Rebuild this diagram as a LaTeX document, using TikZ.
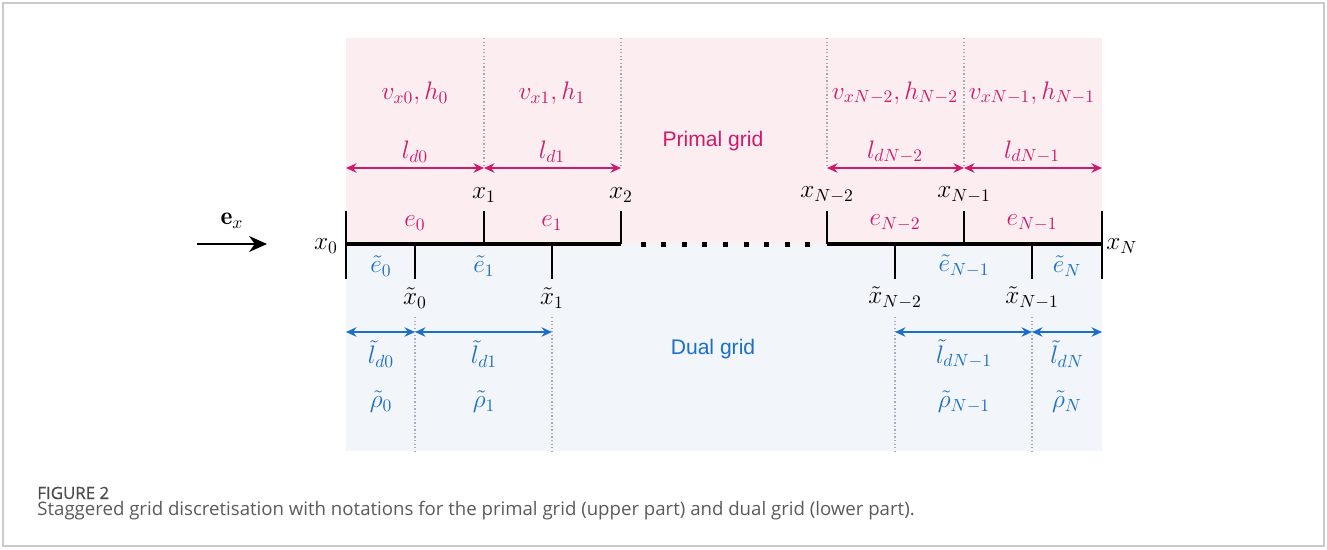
\documentclass[tikz,border=0pt]{standalone}
\usepackage{amsmath,amssymb}
\usepackage{fontspec}
\setsansfont{Liberation Sans}
\newfontfamily\capfont{Open Sans}
\newfontfamily\capheadfont{Open Sans}[FakeBold=0.6]
\usetikzlibrary{arrows.meta, positioning, calc}
\definecolor{pmag}{HTML}{CF1A6C}
\definecolor{dblue}{HTML}{1C6FC6}
\definecolor{pfill}{HTML}{FCEEF0}
\definecolor{dfill}{HTML}{F2F5FA}
\definecolor{pgray}{HTML}{A8A8A8}
\definecolor{dgray}{HTML}{A3ADBA}
\definecolor{frame}{HTML}{CACACA}
\definecolor{capgray}{HTML}{5A5A5A}

\begin{document}
\begin{tikzpicture}[
    x=0.02cm, y=-0.02cm,
    >={Stealth[length=2.1mm, width=1.9mm]},
    every node/.style={font=\fontsize{14.5}{17}\selectfont, inner sep=0.5pt},
    plab/.style={text=pmag},
    dlab/.style={text=dblue},
    pdim/.style={<->, pmag, line width=0.8pt},
    ddim/.style={<->, dblue, line width=0.8pt},
    pguide/.style={pgray, line width=0.8pt, dash pattern=on 0.8pt off 1.2pt},
    dguide/.style={dgray, line width=0.8pt, dash pattern=on 0.8pt off 1.2pt},
    gridtick/.style={line width=1.2pt},
    axisline/.style={line width=2.8pt},
    areatitle/.style={font=\sffamily\fontsize{12}{14}\selectfont},
  ]

  % Page frame
  \useasboundingbox (0,0) rectangle (1327,549);
  \draw[frame, line width=0.8pt] (3,3) rectangle (1324,546);

  % Primal and dual areas
  \fill[pfill] (346,38) rectangle (1102,244);
  \fill[dfill] (346,244) rectangle (1102,451);

  % Grid points
  \foreach \n/\x in {0/346,1/484,2/621,3/827,4/964,5/1102}
    \coordinate (p\n) at (\x,244);
  \foreach \n/\x in {0/415,1/552,2/895,3/1032}
    \coordinate (d\n) at (\x,244);
  \coordinate (ptop) at (0,38);
  \coordinate (parr) at (0,168);
  \coordinate (darr) at (0,332);
  \coordinate (dtop) at (0,317);
  \coordinate (dlow) at (0,451);
  \coordinate (tup) at (0,211);
  \coordinate (tdown) at (0,279);

  %%% ---------------- Primal grid (upper part) ---------------- %%%
  \foreach \n in {1,2,3,4}
    \draw[pguide] (p\n |- ptop) -- (p\n |- parr);
  \draw[pdim] (p0 |- parr) -- (p1 |- parr);
  \draw[pdim] (p1 |- parr) -- (p2 |- parr);
  \draw[pdim] (p3 |- parr) -- (p4 |- parr);
  \draw[pdim] (p4 |- parr) -- (p5 |- parr);

  \node[plab] (v0) at (415,93) {$v_{x0}, h_0$};
  \node[plab] (v1) at (552,93) {$v_{x1}, h_1$};
  \node[plab] (vN2) at (895,93) {$v_{xN-2}, h_{N-2}$};
  \node[plab] (vN1) at (1032,93) {$v_{xN-1}, h_{N-1}$};

  \node[plab] (ld0) at (415,152) {$l_{d0}$};
  \node[plab] (ld1) at (552,152) {$l_{d1}$};
  \node[plab] (ldN2) at (895,152) {$l_{dN-2}$};
  \node[plab] (ldN1) at (1032,152) {$l_{dN-1}$};

  \node[areatitle, text=pmag] (primal) at (713,141) {Primal grid};

  %%% ---------------- Axis ---------------- %%%
  \draw[axisline] (p0) -- (p2);
  \draw[axisline] (p3) -- (p5);
  \foreach \i in {0,...,8}
    \fill (640.5+20.6*\i,241.5) rectangle ++(5,5);

  \draw[gridtick] (p0 |- tup) -- (p0 |- tdown);
  \draw[gridtick] (p5 |- tup) -- (p5 |- tdown);
  \foreach \n in {1,2,3,4}
    \draw[gridtick] (p\n |- tup) -- (p\n);
  \foreach \n in {0,...,3}
    \draw[gridtick] (d\n) -- (d\n |- tdown);

  \node[anchor=east] (x0) at (339,246) {$x_0$};
  \node[anchor=west] (xN) at (1105,246) {$x_N$};
  \node (x1) at (484,195) {$x_1$};
  \node (x2) at (621,195) {$x_2$};
  \node (xN2) at (827,195) {$x_{N-2}$};
  \node (xN1) at (964,195) {$x_{N-1}$};

  \node[plab] (e0) at (415,223) {$e_0$};
  \node[plab] (e1) at (552,223) {$e_1$};
  \node[plab] (eN2) at (895,223) {$e_{N-2}$};
  \node[plab] (eN1) at (1032,223) {$e_{N-1}$};

  \node[dlab] (te0) at (381,266) {$\tilde{e}_0$};
  \node[dlab] (te1) at (484,266) {$\tilde{e}_1$};
  \node[dlab] (teN1) at (964,266) {$\tilde{e}_{N-1}$};
  \node[dlab] (teN) at (1067,266) {$\tilde{e}_N$};

  \node (tx0) at (415,298) {$\tilde{x}_0$};
  \node (tx1) at (552,298) {$\tilde{x}_1$};
  \node (txN2) at (895,298) {$\tilde{x}_{N-2}$};
  \node (txN1) at (1032,298) {$\tilde{x}_{N-1}$};

  % Direction of the axis
  \coordinate (exa) at (197,244);
  \coordinate (exb) at (267,244);
  \draw[line width=1.2pt, -{Stealth[length=3.6mm, width=3.2mm]}] (exa) -- (exb);
  \node (ex) at (232,221) {$\mathbf{e}_x$};

  %%% ---------------- Dual grid (lower part) ---------------- %%%
  \foreach \n in {0,...,3}
    \draw[dguide] (d\n |- dtop) -- (d\n |- dlow);
  \draw[ddim] (p0 |- darr) -- (d0 |- darr);
  \draw[ddim] (d0 |- darr) -- (d1 |- darr);
  \draw[ddim] (d2 |- darr) -- (d3 |- darr);
  \draw[ddim] (d3 |- darr) -- (p5 |- darr);

  \node[dlab] (tl0) at (381,354) {$\tilde{l}_{d0}$};
  \node[dlab] (tl1) at (484,354) {$\tilde{l}_{d1}$};
  \node[dlab] (tlN1) at (964,354) {$\tilde{l}_{dN-1}$};
  \node[dlab] (tlN) at (1067,354) {$\tilde{l}_{dN}$};

  \node[dlab] (rho0) at (381,402) {$\tilde{\rho}_0$};
  \node[dlab] (rho1) at (484,402) {$\tilde{\rho}_1$};
  \node[dlab] (rhoN1) at (964,402) {$\tilde{\rho}_{N-1}$};
  \node[dlab] (rhoN) at (1067,402) {$\tilde{\rho}_N$};

  \node[areatitle, text=dblue] (dual) at (713,349) {Dual grid};

  % Caption
  \node[anchor=base west, inner sep=0pt, text=capgray!85!black,
    font=\capheadfont\fontsize{9.6}{11}\selectfont] (fig) at (37,499)
    {FIGURE 2};
  \node[anchor=base west, inner sep=0pt, text=capgray,
    font=\capfont\fontsize{10.6}{12}\selectfont] (cap) at (37,515)
    {Staggered grid discretisation with notations for the primal grid (upper part) and dual grid (lower part).};

\end{tikzpicture}
\end{document}
